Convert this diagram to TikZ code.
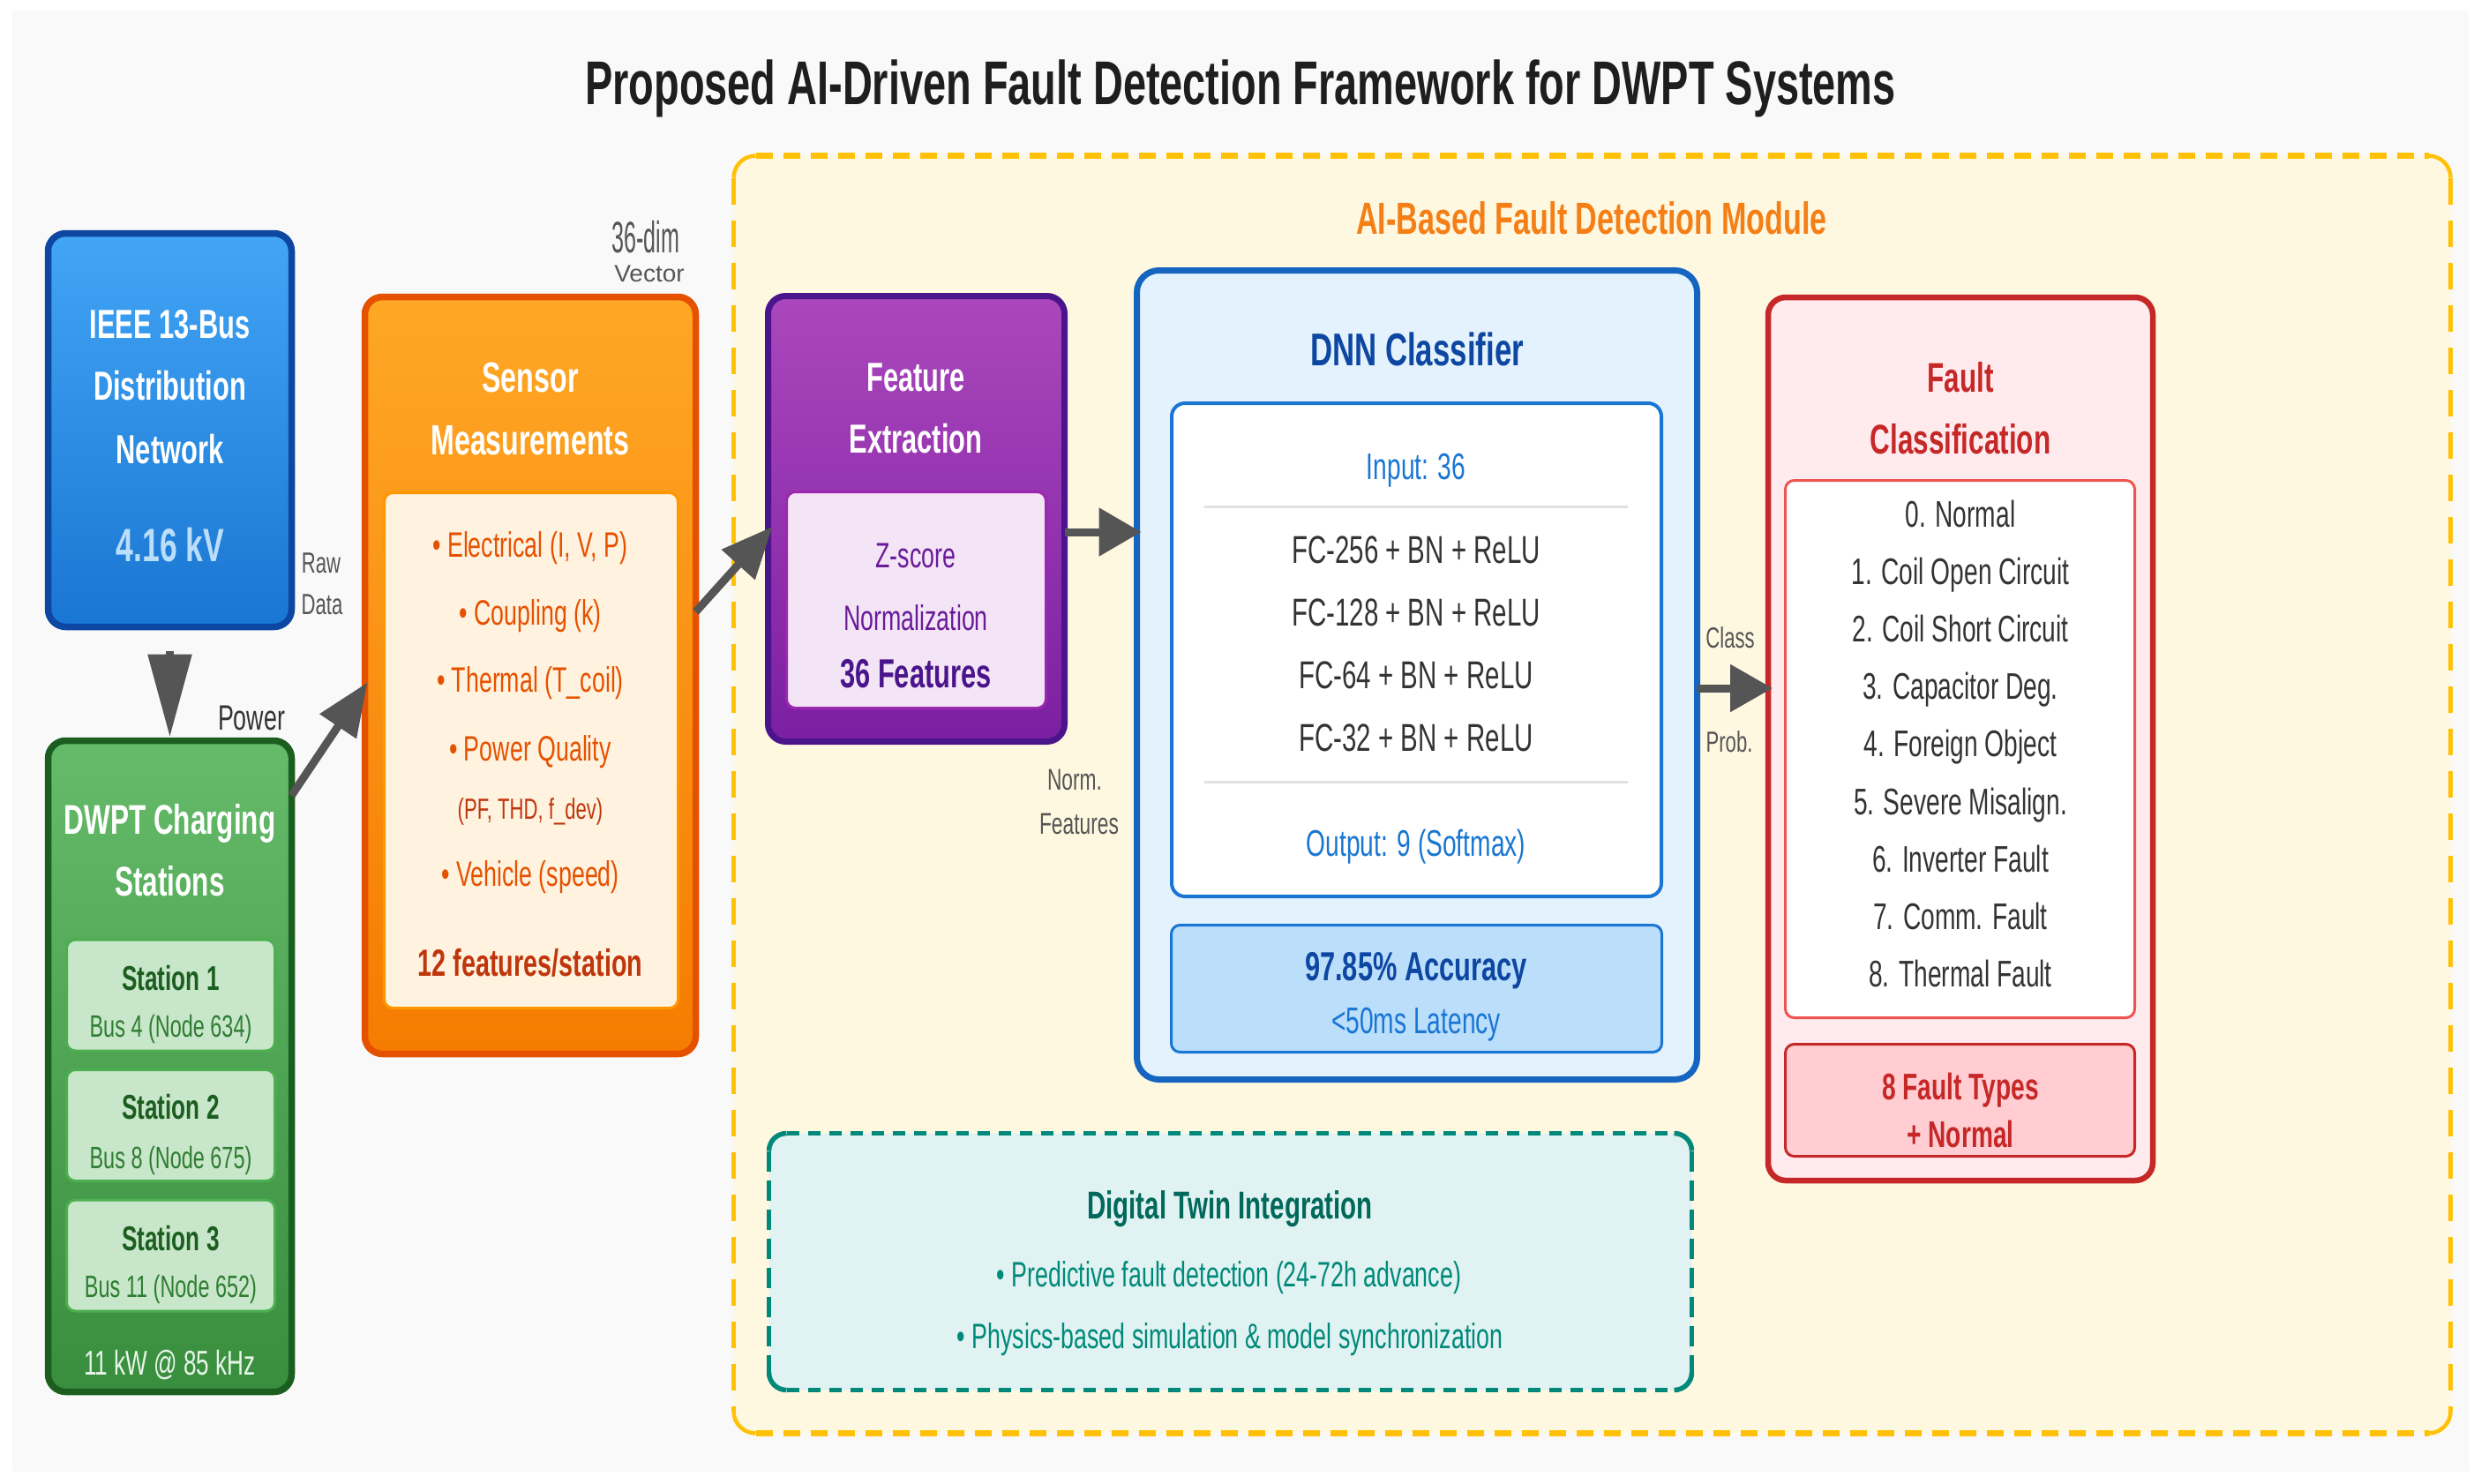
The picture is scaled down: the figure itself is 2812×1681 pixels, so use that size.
\documentclass[tikz,border=0pt]{standalone}
\usepackage{fontspec}
\usepackage{graphicx}
\setmainfont{Liberation Sans}[FakeStretch=0.67]
\usetikzlibrary{arrows.meta,calc}
\newcommand{\fsz}[1]{\fontsize{#1}{#1}\selectfont}
\definecolor{cBg}{HTML}{F9F9F9}
\definecolor{cTitle}{HTML}{1E1E1E}
\definecolor{cYelF}{HTML}{FFF8E1}
\definecolor{cYel}{HTML}{FFC107}
\definecolor{cAIt}{HTML}{F57F17}
\definecolor{cBlueT}{HTML}{42A5F5}
\definecolor{cBlueD}{HTML}{1976D2}
\definecolor{cBlueB}{HTML}{0D47A1}
\definecolor{cBlueL}{HTML}{BBDEFB}
\definecolor{cGreenT}{HTML}{66BB6A}
\definecolor{cGreenD}{HTML}{388E3C}
\definecolor{cGreenB}{HTML}{1B5E20}
\definecolor{cStF}{HTML}{C8E6C9}
\definecolor{cStB}{HTML}{4CAF50}
\definecolor{cStT}{HTML}{2E7D32}
\definecolor{cGreenPale}{HTML}{E8F5E9}
\definecolor{cOrT}{HTML}{FFA726}
\definecolor{cOrD}{HTML}{F57C00}
\definecolor{cOrB}{HTML}{E65100}
\definecolor{cOrIF}{HTML}{FFF3E0}
\definecolor{cOrIB}{HTML}{FF9800}
\definecolor{cOrDk}{HTML}{BF360C}
\definecolor{cPuT}{HTML}{AB47BC}
\definecolor{cPuD}{HTML}{7B1FA2}
\definecolor{cPuB}{HTML}{4A148C}
\definecolor{cPuIF}{HTML}{F3E5F5}
\definecolor{cPuIB}{HTML}{9C27B0}
\definecolor{cPuTx}{HTML}{6A1B9A}
\definecolor{cDnF}{HTML}{E3F2FD}
\definecolor{cDnB}{HTML}{1565C0}
\definecolor{cDnI}{HTML}{1976D2}
\definecolor{cDnA}{HTML}{BBDEFB}
\definecolor{cSep}{HTML}{E0E0E0}
\definecolor{cTxt}{HTML}{333333}
\definecolor{cRed}{HTML}{C62828}
\definecolor{cRedF}{HTML}{FFEBEE}
\definecolor{cRedL}{HTML}{EF5350}
\definecolor{cRedP}{HTML}{FFCDD2}
\definecolor{cTwF}{HTML}{E0F2F1}
\definecolor{cTw}{HTML}{00897B}
\definecolor{cTwT}{HTML}{00695C}
\definecolor{cLab}{HTML}{555555}
\definecolor{cArrow}{HTML}{555555}
% #1 node, #2 radius (unitless), #3 horizontal dash, #4 vertical dash, #5 colour, #6 horizontal lw, #7 vertical lw
\newcommand{\dashedbox}[7]{%
 \draw[#5, line width=#6, dash pattern=#3] ($(#1.north west)+(#2,0)$) -- ($(#1.north east)+(-#2,0)$);
 \draw[#5, line width=#6, dash pattern=#3] ($(#1.south west)+(#2,0)$) -- ($(#1.south east)+(-#2,0)$);
 \draw[#5, line width=#7, dash pattern=#4] ($(#1.north west)+(0,#2)$) -- ($(#1.south west)+(0,-#2)$);
 \draw[#5, line width=#7, dash pattern=#4] ($(#1.north east)+(0,#2)$) -- ($(#1.south east)+(0,-#2)$);
 \draw[#5, line width=#7, rounded corners=#2pt] ($(#1.north west)+(0,#2)$) -- (#1.north west) -- ($(#1.north west)+(#2,0)$);
 \draw[#5, line width=#7, rounded corners=#2pt] ($(#1.north east)+(0,#2)$) -- (#1.north east) -- ($(#1.north east)+(-#2,0)$);
 \draw[#5, line width=#7, rounded corners=#2pt] ($(#1.south west)+(0,-#2)$) -- (#1.south west) -- ($(#1.south west)+(#2,0)$);
 \draw[#5, line width=#7, rounded corners=#2pt] ($(#1.south east)+(0,-#2)$) -- (#1.south east) -- ($(#1.south east)+(-#2,0)$);
}
\begin{document}
\begin{tikzpicture}[x=1pt,y=-1pt,
 txr/.style={font=\fsz{#1}, inner sep=0pt, anchor=base, yshift={-0.358*#1pt}},
 txb/.style={font=\fsz{#1}\bfseries, inner sep=0pt, anchor=base, yshift={-0.358*#1pt}},
 mainbox/.style={rounded corners=20pt, inner sep=0pt, outer sep=0pt},
 subbox/.style={rounded corners=10pt, inner sep=0pt, outer sep=0pt, line width=3pt},
 conn/.style={draw=cArrow, line width=9pt},
]
\fill[white] (0,0) rectangle (2812,1681);
\useasboundingbox (0,0) rectangle (2812,1681);
\fill[cBg] (14,12) rectangle (2798,1668);

% title
\node[txb=70, text=cTitle] (title) at (1406,93) {Proposed AI-Driven Fault Detection Framework for DWPT Systems};

% AI container
\node[mainbox, rounded corners=25pt, fill=cYelF, minimum width=1946pt, minimum height=1448pt] (ai) at (1804.5,900.5) {};
\dashedbox{ai}{25}{on 19pt off 12pt}{on 30pt off 18pt}{cYel}{6.5pt}{4.5pt}
\node[txb=51, text=cAIt] (aititle) at (1804,247) {AI-Based Fault Detection Module};

% IEEE box
\node[mainbox, draw=cBlueB, line width=7.5pt, top color=cBlueT, bottom color=cBlueD, minimum width=276pt, minimum height=446pt] (ieee) at (192.5,487.5) {};
\node[txb=46, text=white] (ieee1) at (192.5,367) {IEEE 13-Bus};
\node[txb=46, text=white] (ieee2) at (192.5,437) {Distribution};
\node[txb=46, text=white] (ieee3) at (192.5,509) {Network};
\node[txb=53, text=cBlueL] (ieee4) at (193,618) {4.16 kV};

% DWPT box
\node[mainbox, draw=cGreenB, line width=7.5pt, top color=cGreenT, bottom color=cGreenD, minimum width=276pt, minimum height=738pt] (dwpt) at (192.5,1208.5) {};
\node[txb=47, text=white] (dw1) at (192.5,929) {DWPT Charging};
\node[txb=47, text=white] (dw2) at (192.5,999) {Stations};
\node[subbox, draw=cStB, fill=cStF, minimum width=236pt, minimum height=126pt] (st1) at (193.5,1128) {};
\node[subbox, draw=cStB, fill=cStF, minimum width=236pt, minimum height=126pt] (st2) at (193.5,1275.5) {};
\node[subbox, draw=cStB, fill=cStF, minimum width=236pt, minimum height=126pt] (st3) at (193.5,1423) {};
\node[txb=39, text=cGreenB] (s1a) at (193.5,1109) {Station 1};
\node[txr=35, text=cStT] (s1b) at (193.5,1163) {Bus 4 (Node 634)};
\node[txb=39, text=cGreenB] (s2a) at (193.5,1255) {Station 2};
\node[txr=35, text=cStT] (s2b) at (193.5,1312) {Bus 8 (Node 675)};
\node[txb=39, text=cGreenB] (s3a) at (193.5,1404) {Station 3};
\node[txr=35, text=cStT] (s3b) at (193.5,1458) {Bus 11 (Node 652)};
\node[txr=39, text=cGreenPale] (dw3) at (192.5,1545) {11 kW @ 85 kHz};

% Sensor box
\node[mainbox, draw=cOrB, line width=7.5pt, top color=cOrT, bottom color=cOrD, minimum width=375pt, minimum height=858pt] (sensor) at (601,765.5) {};
\node[subbox, draw=cOrIB, fill=cOrIF, minimum width=333pt, minimum height=584pt] (sensorin) at (602,850.5) {};
\node[txb=48, text=white] (se1) at (601,427) {Sensor};
\node[txb=48, text=white] (se2) at (601,498) {Measurements};
\node[txr=40, text=cOrB] (se3) at (601,617) {• Electrical (I, V, P)};
\node[txr=40, text=cOrB] (se4) at (601,694) {• Coupling (k)};
\node[txr=40, text=cOrB] (se5) at (601,770) {• Thermal (T\_coil)};
\node[txr=40, text=cOrB] (se6) at (601,848) {• Power Quality};
\node[txr=33, text=cOrDk] (se7) at (601,917) {(PF, THD, f\_dev)};
\node[txr=40, text=cOrB] (se8) at (601,990) {• Vehicle (speed)};
\node[txb=43, text=cOrDk] (se9) at (601,1091) {12 features/station};

% Feature box
\node[mainbox, draw=cPuB, line width=7pt, top color=cPuT, bottom color=cPuD, minimum width=336pt, minimum height=505pt] (feature) at (1038.5,588) {};
\node[subbox, draw=cPuIB, fill=cPuIF, minimum width=294pt, minimum height=245pt] (featin) at (1038.5,680) {};
\node[txb=46, text=white] (fe1) at (1038,427) {Feature};
\node[txb=46, text=white] (fe2) at (1038,497) {Extraction};
\node[txr=40, text=cPuTx] (fe3) at (1038,629) {Z-score};
\node[txr=40, text=cPuTx] (fe4) at (1038,700) {Normalization};
\node[txb=46, text=cPuB] (fe5) at (1038,763) {36 Features};

% DNN box
\node[mainbox, rounded corners=25pt, draw=cDnB, line width=7pt, fill=cDnF, minimum width=635pt, minimum height=917pt] (dnn) at (1606,765) {};
\node[subbox, rounded corners=15pt, line width=4pt, draw=cDnI, fill=white, minimum width=555pt, minimum height=559pt] (dnnin) at (1605.5,736.5) {};
\node[subbox, draw=cDnI, fill=cDnA, minimum width=556pt, minimum height=144pt] (acc) at (1605.5,1120.5) {};
\node[txb=52, text=cBlueB] (dn1) at (1606,396) {DNN Classifier};
\node[txr=42, text=cDnI] (dn2) at (1605,528) {Input: 36};
\draw[cSep, line width=3pt] (1365,574) -- (1845,574);
\node[txr=44, text=cTxt] (dn3) at (1605,623) {FC-256 + BN + ReLU};
\node[txr=44, text=cTxt] (dn4) at (1605,694) {FC-128 + BN + ReLU};
\node[txr=44, text=cTxt] (dn5) at (1605,765) {FC-64 + BN + ReLU};
\node[txr=44, text=cTxt] (dn6) at (1605,836) {FC-32 + BN + ReLU};
\draw[cSep, line width=3pt] (1365,886) -- (1845,886);
\node[txr=42, text=cDnI] (dn7) at (1605,955) {Output: 9 (Softmax)};
\node[txb=46, text=cBlueB] (dn8) at (1605,1095) {97.85\% Accuracy};
\node[txr=42, text=cDnI] (dn9) at (1605,1156) {<50ms Latency};

% Fault box
\node[mainbox, draw=cRed, line width=6.5pt, fill=cRedF, minimum width=436pt, minimum height=1001pt] (fault) at (2222,837.5) {};
\node[subbox, draw=cRedL, fill=white, minimum width=396pt, minimum height=609pt] (faultin) at (2221.5,849) {};
\node[subbox, draw=cRed, fill=cRedP, minimum width=396pt, minimum height=127pt] (faultn) at (2221.5,1247) {};
\node[txb=47, text=cRed] (fa1) at (2222,428) {Fault};
\node[txb=47, text=cRed] (fa2) at (2222,498) {Classification};
\node[txr=42, text=cTxt] (fc0) at (2222,582) {0. Normal};
\node[txr=42, text=cTxt] (fc1) at (2222,647) {1. Coil Open Circuit};
\node[txr=42, text=cTxt] (fc2) at (2222,712) {2. Coil Short Circuit};
\node[txr=42, text=cTxt] (fc3) at (2222,777) {3. Capacitor Deg.};
\node[txr=42, text=cTxt] (fc4) at (2222,842) {4. Foreign Object};
\node[txr=42, text=cTxt] (fc5) at (2222,908) {5. Severe Misalign.};
\node[txr=42, text=cTxt] (fc6) at (2222,973) {6. Inverter Fault};
\node[txr=42, text=cTxt] (fc7) at (2222,1038) {7. Comm. Fault};
\node[txr=42, text=cTxt] (fc8) at (2222,1103) {8. Thermal Fault};
\node[txb=42, text=cRed] (fn1) at (2222,1231) {8 Fault Types};
\node[txb=42, text=cRed] (fn2) at (2222,1285) {+ Normal};

% Digital twin
\node[mainbox, fill=cTwF, minimum width=1046pt, minimum height=291pt] (twin) at (1394.5,1430) {};
\dashedbox{twin}{20}{on 14pt off 10pt}{on 23pt off 10pt}{cTw}{5pt}{5.5pt}
\node[txb=44, text=cTwT] (tw1) at (1394,1366) {Digital Twin Integration};
\node[txr=40, text=cTw] (tw2) at (1393,1444) {• Predictive fault detection (24-72h advance)};
\node[txr=40, text=cTw] (tw3) at (1394,1514) {• Physics-based simulation \& model synchronization};

% connectors
\coordinate (rawstart) at ($(ieee.south)+(0,27)$);
\draw[conn, -{Triangle[length=94pt,width=48pt]}, shorten >=4pt] (rawstart) -- (dwpt.north);
\draw[conn, -{Triangle[length=60pt,width=48pt]}] ($(dwpt.north east)+(0,62)$) -- ($(sensor.west)+(3,8)$);
\draw[conn, -{Triangle[length=58pt,width=49pt]}] ($(sensor.east)+(0,-72)$) -- ($(feature.west)+(5,9)$);
\coordinate (fea) at ($(feature.east)+(0,15)$);
\draw[conn, -{Triangle[length=48pt,width=53pt]}] (fea) -- ($(fea -| dnn.west)+(5,0)$);
\coordinate (dna) at ($(dnn.east)+(0,15)$);
\draw[conn, -{Triangle[length=48pt,width=52pt]}] (dna) -- ($(dna -| fault.west)+(5,0)$);

% connector labels
\node[txr=33, text=cLab] (raw1) at (364,638) {Raw};
\node[txr=33, text=cLab] (raw2) at (365,685) {Data};
\node[txr=40, text=cTxt] (pow) at (285,813) {Power};
\node[txr=50, text=cLab] (dim1) at (732,269) {\scalebox{0.75}[1]{36-dim}};
\node[txr=27, text=cLab] (dim2) at (736,310) {\scalebox{1.55}[1]{Vector}};
\node[txr=34, text=cLab] (nf1) at (1218,883) {Norm.};
\node[txr=34, text=cLab] (nf2) at (1223,933) {Features};
\node[txr=33, text=cLab] (cp1) at (1961,723) {Class};
\node[txr=33, text=cLab] (cp2) at (1960,841) {Prob.};
\end{tikzpicture}
\end{document}
